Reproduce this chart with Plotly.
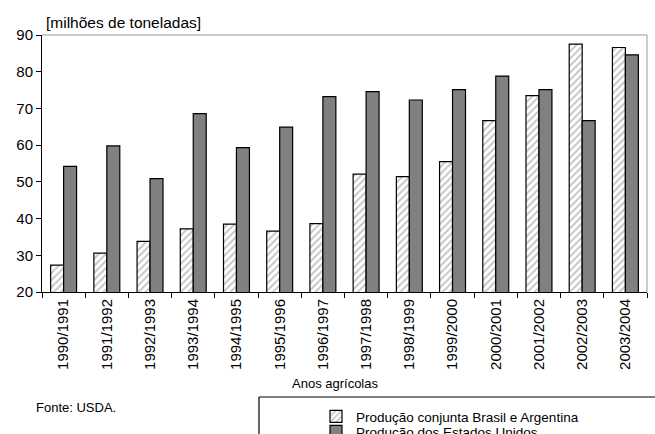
import plotly.graph_objects as go

categories = ["1990/1991", "1991/1992", "1992/1993", "1993/1994", "1994/1995",
              "1995/1996", "1996/1997", "1997/1998", "1998/1999", "1999/2000",
              "2000/2001", "2001/2002", "2002/2003", "2003/2004"]
brasil_argentina = [27.3, 30.6, 33.8, 37.2, 38.5, 36.6, 38.6, 52.1, 51.4, 55.5,
                    66.7, 73.5, 87.5, 86.6]
estados_unidos = [54.2, 59.8, 50.9, 68.6, 59.3, 64.9, 73.2, 74.6, 72.3, 75.1,
                  78.8, 75.1, 66.7, 84.6]
y_ticks = [20, 30, 40, 50, 60, 70, 80, 90]

W, H = 655, 434
ML, MR, MT, MB = 42, 8, 35, 142
PW, PH = W - ML - MR, H - MT - MB

def px_x(px):
    return (px - ML) / PW

def px_y(py):
    return (H - MB - py) / PH

FONT = "Liberation Sans, Arial, sans-serif"
LEG_FONT = dict(size=13.5, family=FONT, color="black")

fig = go.Figure()
fig.add_trace(go.Bar(
    x=categories, y=brasil_argentina,
    name="Produção conjunta Brasil e Argentina",
    legend="legend",
    marker=dict(color="white",
                line=dict(color="black", width=1.2),
                pattern=dict(shape="/", fgcolor="#8c8c8c", bgcolor="white",
                             size=5, solidity=0.4)),
))
fig.add_trace(go.Bar(
    x=categories, y=estados_unidos,
    name="Produção dos Estados Unidos",
    legend="legend2",
    marker=dict(color="#808080", line=dict(color="black", width=1.2)),
))

fig.update_layout(
    width=W, height=H,
    margin=dict(l=ML, r=MR, t=MT, b=MB, autoexpand=False),
    paper_bgcolor="white", plot_bgcolor="white",
    barmode="group", bargap=0.4, bargroupgap=0,
    font=dict(family=FONT, color="black"),
    showlegend=True,
    legend=dict(
        xref="container", yref="container",
        x=316 / W, y=1 - 401 / H, xanchor="left", yanchor="top",
        font=LEG_FONT, bgcolor="rgba(0,0,0,0)", borderwidth=0,
    ),
    legend2=dict(
        xref="container", yref="container",
        x=316 / W, y=1 - 416 / H, xanchor="left", yanchor="top",
        font=LEG_FONT, bgcolor="rgba(0,0,0,0)", borderwidth=0,
    ),
    xaxis=dict(
        type="category", tickson="boundaries",
        showline=True, linecolor="black", linewidth=1,
        ticks="outside", ticklen=5, tickcolor="black",
        tickangle=-90, tickfont=dict(size=15, family=FONT, color="black"),
        showgrid=False, zeroline=False,
    ),
    yaxis=dict(
        range=[20, 90], tickvals=y_ticks,
        showline=True, linecolor="black", linewidth=1,
        ticks="outside", ticklen=5, tickcolor="black",
        tickfont=dict(size=15, family=FONT, color="black"),
        showgrid=False, zeroline=False,
    ),
    shapes=[
        dict(type="line", xref="paper", yref="paper", x0=0, x1=1, y0=1, y1=1,
             line=dict(color="#999999", width=1.2)),
        dict(type="line", xref="paper", yref="paper", x0=1, x1=1, y0=0, y1=1,
             line=dict(color="#aaaaaa", width=1.2)),
        dict(type="line", xref="paper", yref="paper",
             x0=px_x(259), x1=px_x(660), y0=px_y(397), y1=px_y(397),
             line=dict(color="black", width=1.2)),
        dict(type="line", xref="paper", yref="paper",
             x0=px_x(259), x1=px_x(259), y0=px_y(397), y1=px_y(440),
             line=dict(color="black", width=1.2)),
    ],
    annotations=[
        dict(text="[milhões de toneladas]", xref="paper", yref="paper",
             x=px_x(44), y=px_y(23), xanchor="left", yanchor="middle",
             showarrow=False, font=dict(size=15.5, family=FONT, color="black")),
        dict(text="Anos agrícolas", xref="paper", yref="paper",
             x=px_x(335), y=px_y(383), xanchor="center", yanchor="middle",
             showarrow=False, font=dict(size=13, family=FONT, color="black")),
        dict(text="Fonte: USDA.", xref="paper", yref="paper",
             x=px_x(34), y=px_y(407), xanchor="left", yanchor="middle",
             showarrow=False, font=dict(size=13, family=FONT, color="black")),
    ],
)

fig.write_html("out.html",
               config={"displayModeBar": False},
               post_script="document.body.style.margin='0';"
                           "document.body.style.overflow='hidden';")
